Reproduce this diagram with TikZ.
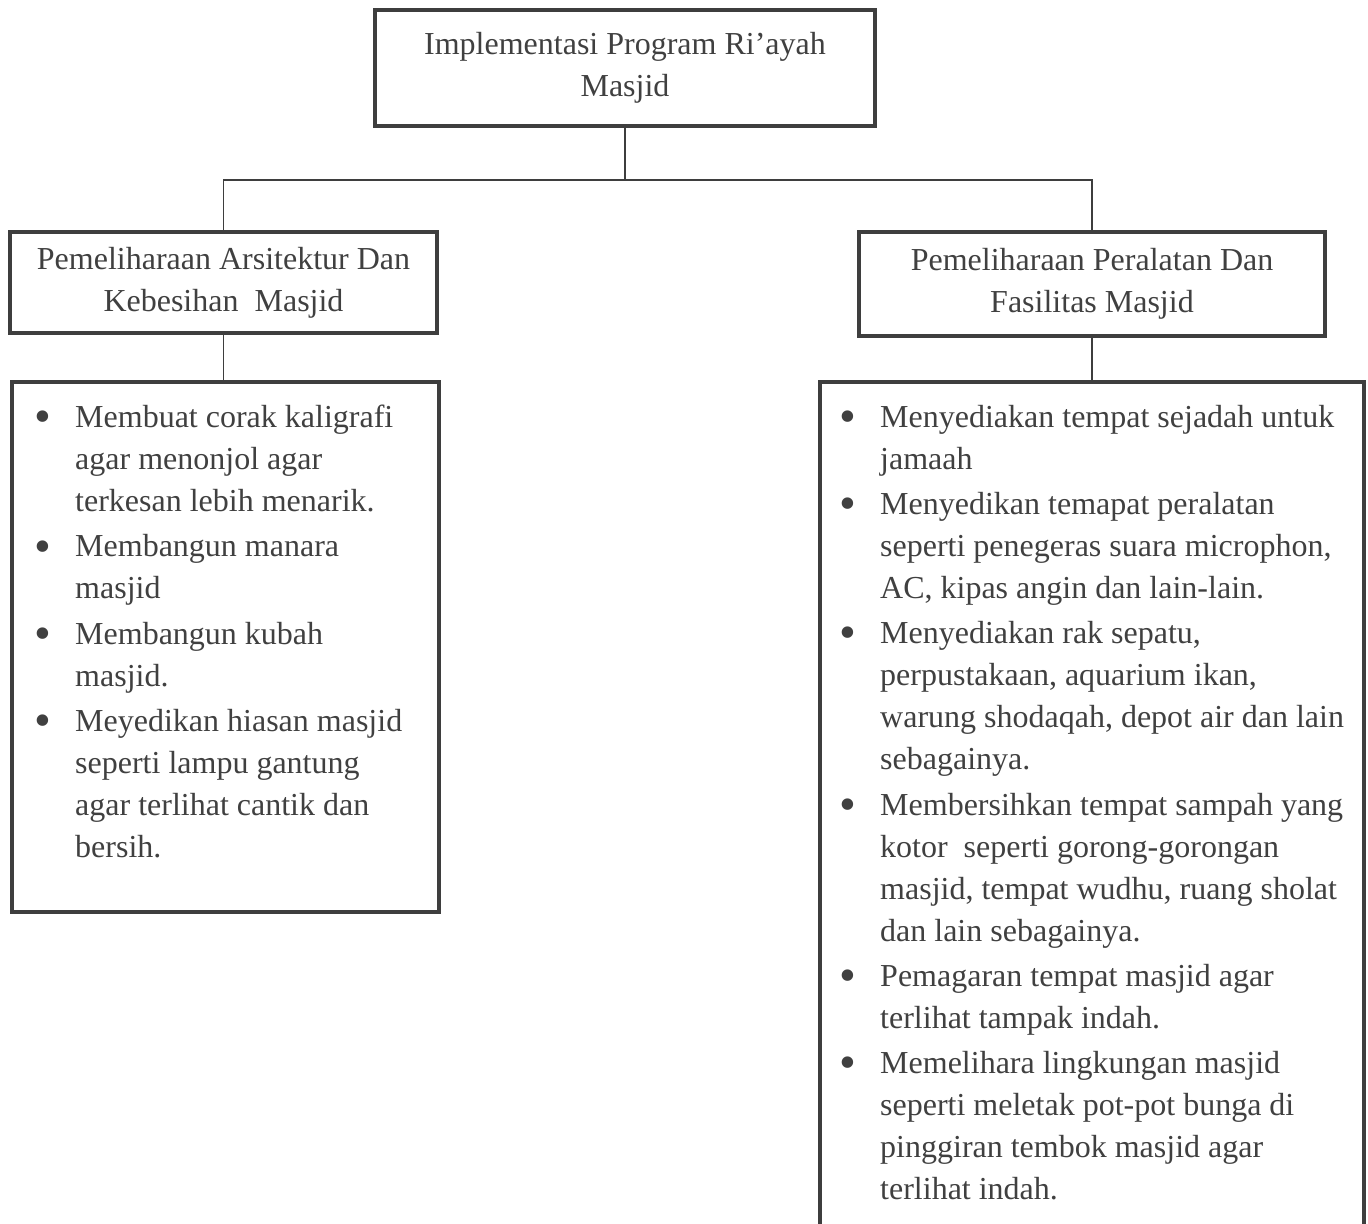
\documentclass[tikz,border=0pt]{standalone}
\usepackage{fontspec}
\setmainfont{Liberation Serif}
\usepackage{xcolor}
\usepackage{enumitem}
\usepackage{tikz}
\usetikzlibrary{positioning}

\definecolor{inkgray}{RGB}{64,64,64}
\definecolor{framegray}{RGB}{62,62,62}

\newsavebox{\listbin}
\newlength{\listwidth}
\newcommand{\boxfont}{\fontsize{16}{21}\selectfont}
\newcommand{\dotmark}{\raisebox{-0.16em}{\scalebox{1.5}{\textbullet}}}
\newcommand{\openlist}[3]{%
    \setlength{\listwidth}{#1}%
    \begin{lrbox}{\listbin}%
    \begin{minipage}[t][#2][t]{#1}
        \vspace*{11.5pt}
        \raggedright
        \begin{itemize}[
            label=\dotmark,
            leftmargin=#3,
            rightmargin=-40pt,
            labelsep=12pt,
            itemsep=1.6pt,
            parsep=0pt,
            topsep=0pt,
            partopsep=0pt
        ]}
\newcommand{\closelist}{%
        \end{itemize}%
    \end{minipage}%
    \end{lrbox}%
    \wd\listbin=\listwidth
    \usebox{\listbin}}

\tikzset{
    headbox/.style={
        draw=framegray,
        line width=2.2pt,
        text=inkgray,
        align=center,
        font=\boxfont,
        inner sep=0pt
    },
    listbox/.style={
        draw=framegray,
        line width=2.2pt,
        text=inkgray,
        anchor=north west,
        inner sep=0pt,
        font=\boxfont
    },
    branch/.style={
        draw=framegray,
        line width=0.9pt
    }
}

\begin{document}
\begin{tikzpicture}[x=0.5pt,y=-0.5pt]
                \useasboundingbox (0,0) rectangle (1368,1223);
                \clip (0,0) rectangle (1368,1223);

                % main program
                \node[
                    headbox,
                    minimum width=250pt,
                    minimum height=58pt
                ] (program) at (625,68) {Implementasi Program Ri’ayah\\Masjid};

                % two branches
                \node[
                    headbox,
                    minimum width=213.5pt,
                    minimum height=50.5pt
                ] (arsitektur) at (223.5,282.5) {Pemeliharaan Arsitektur Dan\\Kebesihan\ \ Masjid};

                \node[
                    headbox,
                    minimum width=233pt,
                    minimum height=52pt
                ] (fasilitas) at (1092,284) {Pemeliharaan Peralatan Dan\\Fasilitas Masjid};

                % activity lists
                \node[listbox] (arsitekturlist) at (10,380) {%
                    \openlist{213.5pt}{265pt}{31.5pt}
                        \item Membuat corak kaligrafi\\agar menonjol agar\\terkesan lebih menarik.
                        \item Membangun manara\\masjid
                        \item Membangun kubah\\masjid.
                        \item Meyedikan hiasan masjid\\seperti lampu gantung\\agar terlihat cantik dan\\bersih.
                    \closelist};

                \node[listbox] (fasilitaslist) at (818,380) {%
                    \openlist{272pt}{450pt}{30pt}
                        \item Menyediakan tempat sejadah untuk\\jamaah
                        \item Menyedikan temapat peralatan\\seperti penegeras suara microphon,\\AC, kipas angin dan lain-lain.
                        \item Menyediakan rak sepatu,\\perpustakaan, aquarium ikan,\\warung shodaqah, depot air dan lain\\sebagainya.
                        \item Membersihkan tempat sampah yang\\kotor\ \ seperti gorong-gorongan\\masjid, tempat wudhu, ruang sholat\\dan lain sebagainya.
                        \item Pemagaran tempat masjid agar\\terlihat tampak indah.
                        \item Memelihara lingkungan masjid\\seperti meletak pot-pot bunga di\\pinggiran tembok masjid agar\\terlihat indah.
                    \closelist};

                % connectors
                \coordinate (split) at (625,180);

                \draw[branch] (program.south) -- (split);
                \draw[branch] (arsitektur.north) |- (split);
                \draw[branch] (fasilitas.north) |- (split);
                \draw[branch] (arsitektur.south) -- (arsitektur.south |- arsitekturlist.north);
                \draw[branch] (fasilitas.south) -- (fasilitas.south |- fasilitaslist.north);

            \end{tikzpicture}
\end{document}
